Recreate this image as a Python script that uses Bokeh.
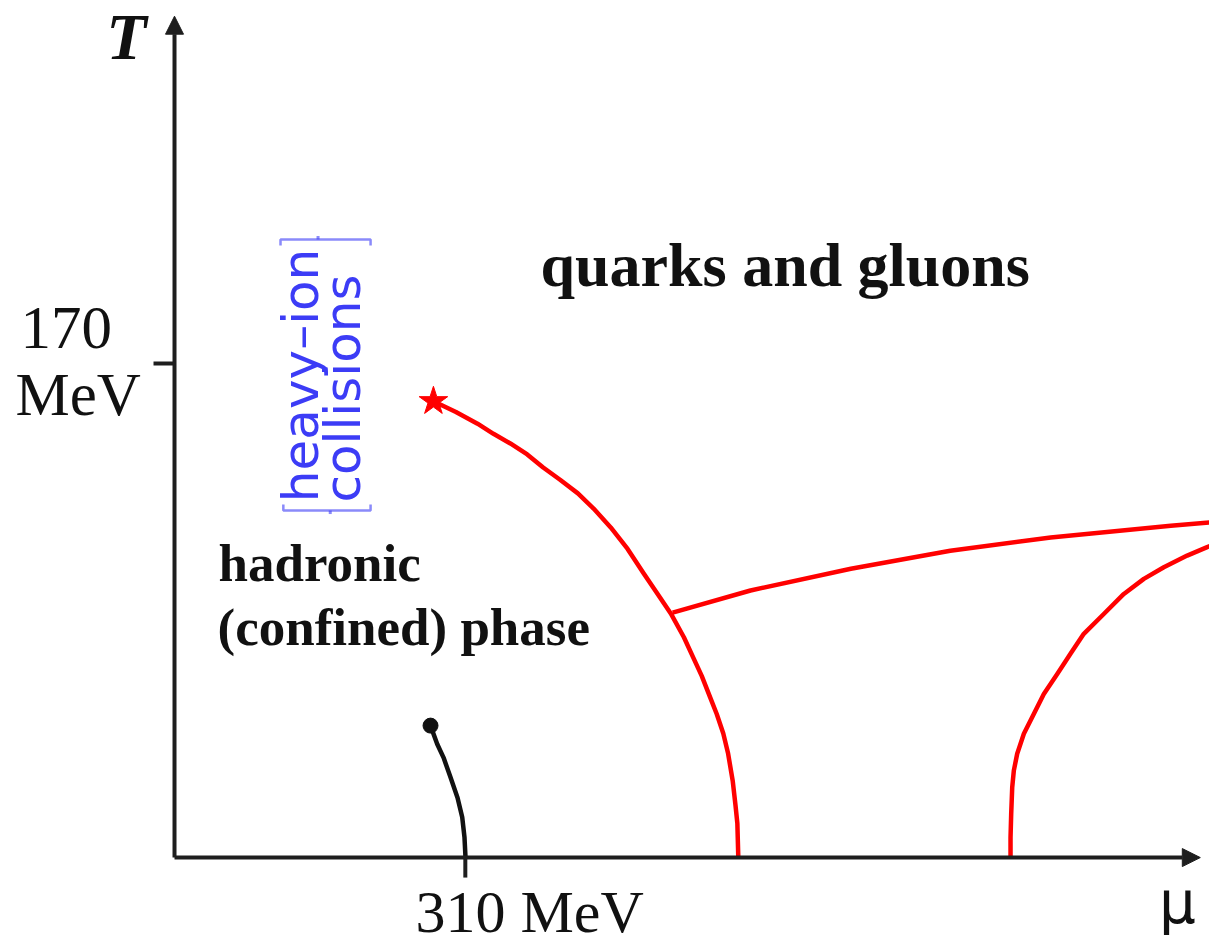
import math
from bokeh.plotting import figure
from bokeh.models import Range1d, Arrow, NormalHead
from bokeh.core.properties import value
from bokeh.embed import file_html
from bokeh.resources import INLINE

# ---- phase-diagram data: chemical potential mu (MeV), temperature T (MeV) ----
# deconfinement / chiral transition line, from the critical point down to T = 0
transition_mu = [276, 300, 323, 340, 358, 376, 393, 411, 430, 447, 465, 483, 500, 515, 529,
                 543, 553, 562, 571, 578, 585, 590, 595, 598, 600, 601]
transition_T = [157, 153.3, 149.3, 145.8, 142.5, 138.7, 134.2, 130.0, 125.3, 120.0, 113.6,
                106.2, 97.8, 90.7, 84.0, 75.8, 68.8, 62.5, 55.1, 49.4, 42.7, 36.0, 26.5,
                18.0, 11.7, 0]

# boundary of the colour-superconducting region
csc_mu = [531, 614, 721, 827, 934, 1062, 1103]
csc_T = [84.3, 91.9, 99.4, 105.6, 110.1, 114.2, 115.3]

# boundary of the colour-flavour-locked region
cfl_mu = [891.2, 891.2, 891.9, 893.0, 894.7, 898.3, 905.4, 916.0, 926.7, 941.0, 955.1,
          969.3, 990.6, 1012.0, 1033.3, 1054.6, 1079.5, 1100.8, 1104]
cfl_T = [0, 7.0, 15.0, 24.2, 29.9, 35.7, 42.6, 49.4, 56.3, 63.2, 70.1, 77.0, 83.8, 90.7,
         95.9, 99.9, 103.9, 106.8, 107.2]

# nuclear liquid-gas transition
nuclear_mu = [272.9, 280.0, 286.8, 294.2, 301.7, 306.7, 309.1, 310.2]
nuclear_T = [45.4, 39.1, 34.4, 27.6, 20.6, 13.9, 7.0, 0]

critical_point = (276, 157)
nuclear_endpoint = (272.9, 45.4)

mu_tick = 310
T_tick = 170
mu_tick_label = "310 MeV"
T_tick_label = ["170", "MeV"]

# ---- canvas ----
W, H = 1209, 946
x0, x1 = -185.5, 1103.3
y0, y1 = -30.6, 294.9
px_x = W / (x1 - x0)   # pixels per MeV along mu
px_y = H / (y1 - y0)   # pixels per MeV along T

p = figure(width=W, height=H, x_range=Range1d(x0, x1), y_range=Range1d(y0, y1),
           x_axis_location=None, y_axis_location=None, toolbar_location=None,
           output_backend="svg", min_border=0, outline_line_color=None,
           background_fill_color="white", border_fill_color="white")
p.xgrid.visible = False
p.ygrid.visible = False

AX = "#1e1e1e"
INK = "#111111"
SERIF = value("Liberation Serif")

# axes with arrow heads
p.add_layout(Arrow(x_start=0, y_start=0, x_end=1093.5, y_end=0, line_color=AX, line_width=4,
                   end=NormalHead(size=18, fill_color=AX, line_color=AX)))
p.add_layout(Arrow(x_start=0, y_start=0, x_end=0, y_end=289.5, line_color=AX, line_width=4,
                   end=NormalHead(size=18, fill_color=AX, line_color=AX)))

# ticks
p.segment(x0=[mu_tick], y0=[0], x1=[mu_tick], y1=[-20 / px_y], line_color=AX, line_width=4)
p.segment(x0=[0], y0=[T_tick], x1=[-21 / px_x], y1=[T_tick], line_color=AX, line_width=4)

# tick labels
p.text(x=[256.9], y=[-18.9], text=[mu_tick_label], text_font=SERIF, text_font_size="60px",
       text_color=INK, text_align="left", text_baseline="alphabetic")
p.text(x=[-164.2, -169.5], y=[182.1, 159.4], text=T_tick_label, text_font=SERIF,
       text_font_size="61px", text_color=INK, text_align="left", text_baseline="alphabetic")

# axis names
p.text(x=[-51.2], y=[282.6], text=["T"], text_font=SERIF, text_font_size="66px",
       text_font_style="bold italic", text_color=INK, text_align="center",
       text_baseline="alphabetic")
p.text(x=[1069.2], y=[-15.5], text=["μ"], text_font=value("DejaVu Sans"), text_font_size="58px",
       text_color=INK, text_align="center", text_baseline="alphabetic")

# phase boundaries
RED = "#ff0000"
p.line(transition_mu, transition_T, line_color=RED, line_width=4.5, line_join="round")
p.line(csc_mu, csc_T, line_color=RED, line_width=4.5, line_join="round")
p.line(cfl_mu, cfl_T, line_color=RED, line_width=4.5, line_join="round")
p.scatter([critical_point[0]], [critical_point[1]], marker="star", size=30,
          fill_color=RED, line_color=RED)

p.line(nuclear_mu, nuclear_T, line_color=INK, line_width=4.5, line_join="round")
p.scatter([nuclear_endpoint[0]], [nuclear_endpoint[1]], marker="circle", size=15,
          fill_color=INK, line_color=INK)

# region labels
p.text(x=[390.2], y=[204.0], text=["quarks and gluons"], text_font=SERIF, text_font_size="62px",
       text_font_style="bold", text_color=INK, text_align="left", text_baseline="alphabetic")
p.text(x=[46.9, 45.8], y=[101.2, 79.5], text=["hadronic", "(confined) phase"], text_font=SERIF,
       text_font_size="53px", text_font_style="bold", text_color=INK, text_align="left",
       text_baseline="alphabetic")

# vertical bracketed note
BLUE = "#3c3cf6"
p.text(x=[135.3, 179.1], y=[165.9, 161.4], text=["heavy–ion", "collisions"],
       text_font=value("DejaVu Sans"), text_font_size="50px", text_color=BLUE,
       angle=math.pi / 2, text_align="center", text_baseline="alphabetic")
br_top, br_bot = 212.7, 119.4
hook = 6 / px_y
p.multi_line(xs=[[113, 113, 209, 209], [116, 116, 209, 209]],
             ys=[[br_top - hook, br_top, br_top, br_top - hook],
                 [br_bot + hook, br_bot, br_bot, br_bot + hook]],
             line_color=BLUE, line_width=2.5, line_alpha=0.6)
p.segment(x0=[153, 166], y0=[br_top, br_bot], x1=[153, 166], y1=[br_top + 1.2, br_bot - 1.2],
          line_color=BLUE, line_width=3, line_alpha=0.6)

open("out.html", "w").write(file_html(p, INLINE))
